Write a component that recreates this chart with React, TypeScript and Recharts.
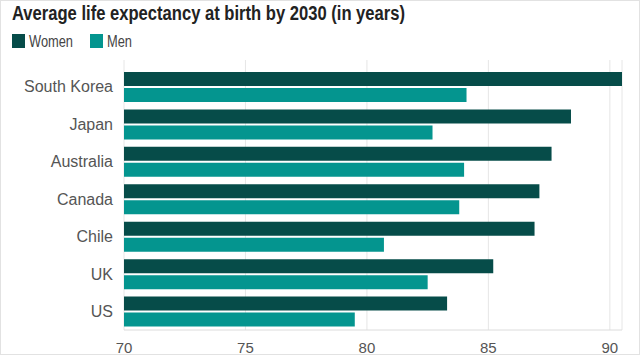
import { BarChart, Bar, XAxis, YAxis, CartesianGrid } from "recharts"

const countries = ["South Korea", "Japan", "Australia", "Canada", "Chile", "UK", "US"]
const women = [90.5, 88.4, 87.6, 87.1, 86.9, 85.2, 83.3]
const men = [84.1, 82.7, 84.0, 83.8, 80.7, 82.5, 79.5]
const xTicks = [70, 75, 80, 85, 90]

const WOMEN_COLOR = "#064c49"
const MEN_COLOR = "#04958f"
const TICK_COLOR = "#555"

const data = countries.map((country, i) => ({ country, women: women[i], men: men[i] }))

export default function App() {
  return (
    <div
      style={{
        position: "fixed",
        top: 0,
        left: 0,
        width: 640,
        height: 355,
        background: "#fff",
        border: "1px solid #e2e2e2",
        boxSizing: "border-box",
        overflow: "hidden",
        fontFamily: "'Liberation Sans', Arial, sans-serif",
      }}
    >
      <svg width={640} height={60} style={{ position: "absolute", top: -1, left: -1 }}>
        <text
          x={12}
          y={20}
          fontSize={20}
          fontWeight="bold"
          fill="#222"
          textLength={393}
          lengthAdjust="spacingAndGlyphs"
          fontFamily="'Liberation Sans', Arial, sans-serif"
        >
          Average life expectancy at birth by 2030 (in years)
        </text>
        <rect x={12} y={34} width={13} height={14} fill={WOMEN_COLOR} />
        <text x={29} y={47} fontSize={16} fill="#444" textLength={44} lengthAdjust="spacingAndGlyphs">
          Women
        </text>
        <rect x={90} y={34} width={13} height={14} fill={MEN_COLOR} />
        <text x={107} y={47} fontSize={16} fill="#444" textLength={25} lengthAdjust="spacingAndGlyphs">
          Men
        </text>
      </svg>
      <div style={{ position: "absolute", top: -1, left: -1 }}>
        <BarChart
          width={640}
          height={355}
          data={data}
          layout="vertical"
          margin={{ top: 60, right: 18, bottom: 0, left: 0 }}
          barGap={2}
          barCategoryGap={4}
        >
          <CartesianGrid horizontal={false} stroke="#e6e6e6" />
          <XAxis
            type="number"
            domain={[70, 90.5]}
            ticks={xTicks}
            allowDataOverflow
            height={25}
            tickSize={0}
            tickMargin={12}
            axisLine={{ stroke: "#dcdcdc" }}
            tickLine={false}
            tick={{ fill: TICK_COLOR, fontSize: 15, fontFamily: "'Liberation Sans', Arial, sans-serif" }}
          />
          <YAxis
            type="category"
            dataKey="country"
            width={124}
            padding={{ top: 8, bottom: 0 }}
            tickSize={0}
            tickMargin={11}
            axisLine={false}
            tickLine={false}
            tick={{ fill: TICK_COLOR, fontSize: 16, fontFamily: "'Liberation Sans', Arial, sans-serif" }}
          />
          <Bar dataKey="women" fill={WOMEN_COLOR} isAnimationActive={false} />
          <Bar dataKey="men" fill={MEN_COLOR} isAnimationActive={false} />
        </BarChart>
      </div>
    </div>
  )
}
